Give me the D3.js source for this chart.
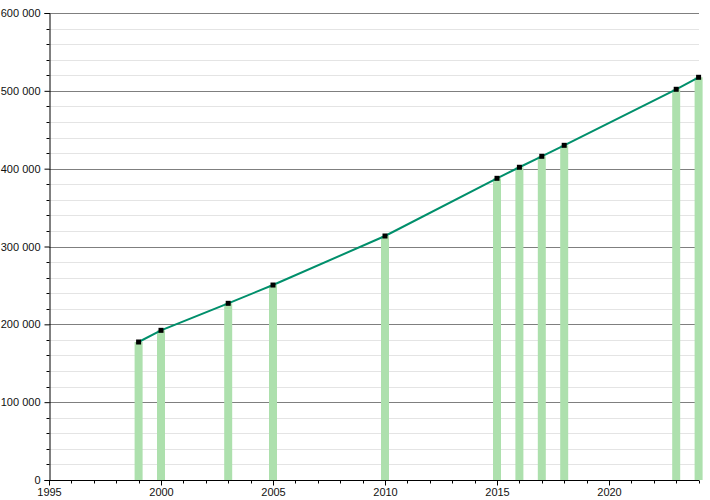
<!DOCTYPE html>
<html><head><meta charset="utf-8">
<script src="https://cdn.jsdelivr.net/npm/d3@7"></script>
<style>body{margin:0;background:#fff}text{font-family:"Liberation Sans",Arial,sans-serif;font-size:11px;fill:#111}</style>
</head><body><svg id="c" width="710" height="500"></svg>
<script>
const years = [1999, 2000, 2003, 2005, 2010, 2015, 2016, 2017, 2018, 2023, 2024];
const population = [177300, 192300, 227000, 250500, 313500, 387600, 401800, 415900, 430000, 502000, 517400];
const xTickLabels = [1995, 2000, 2005, 2010, 2015, 2020];
const yTickLabels = [0, 100000, 200000, 300000, 400000, 500000, 600000];

const svg = d3.select("#c");
const x = d3.scaleLinear().domain([1995, 2024]).range([49, 698.6]);
const y = d3.scaleLinear().domain([0, 600000]).range([480, 13]);
const fmt = v => d3.format(",")(v).replace(/,/g, " ");

// minor grid
const minor = d3.range(20000, 600001, 20000).filter(v => v % 100000 !== 0);
svg.append("g").selectAll("line").data(minor).join("line")
  .attr("x1", 50).attr("x2", 699).attr("y1", d => Math.round(y(d)) + 0.5).attr("y2", d => Math.round(y(d)) + 0.5)
  .attr("stroke", "#e4e4e4").attr("stroke-width", 1);
// major grid
svg.append("g").selectAll("line").data(yTickLabels.filter(v => v > 0)).join("line")
  .attr("x1", 49).attr("x2", 699).attr("y1", d => Math.round(y(d)) + 0.5).attr("y2", d => Math.round(y(d)) + 0.5)
  .attr("stroke", "#7f7f7f").attr("stroke-width", 1);

// bars
svg.append("g").selectAll("rect").data(years).join("rect")
  .attr("x", (d) => x(d) - 4).attr("width", 8)
  .attr("y", (d, i) => y(population[i])).attr("height", (d, i) => y(0) - y(population[i]))
  .attr("fill", "#ade0ad");

// line
const pts = years.map((d, i) => [x(d), y(population[i])]);
svg.append("path").attr("d", d3.line()(pts)).attr("fill", "none")
  .attr("stroke", "#008f6b").attr("stroke-width", 2);
svg.append("g").selectAll("rect").data(pts).join("rect")
  .attr("x", d => d[0] - 2.5).attr("y", d => d[1] - 2.5).attr("width", 5).attr("height", 5).attr("fill", "#000");

// y axis
const yAxisG = svg.append("g").attr("transform", "translate(49.5,0)");
yAxisG.call(d3.axisLeft(y).tickValues(yTickLabels).tickFormat(fmt).tickSize(5).tickPadding(4))
  .call(g => g.select(".domain").attr("stroke", "#000"));
yAxisG.selectAll(".tick line").attr("stroke", "#000");
yAxisG.append("g").selectAll("line").data(minor).join("line")
  .attr("x1", -3).attr("x2", 0).attr("y1", d => Math.round(y(d)) + 0.5).attr("y2", d => Math.round(y(d)) + 0.5).attr("stroke", "#000");
yAxisG.selectAll(".tick text").style("font-size", "11px").attr("fill", "#111");

// x axis
const xAxisG = svg.append("g").attr("transform", "translate(0,480.5)");
xAxisG.call(d3.axisBottom(x).tickValues(xTickLabels).tickFormat(d3.format("d")).tickSize(5).tickPadding(3))
  .call(g => g.select(".domain").attr("stroke", "#000").attr("d", "M49,0H699"));
xAxisG.selectAll(".tick line").attr("stroke", "#000");
const minorYears = d3.range(1996, 2025).filter(v => v % 5 !== 0);
xAxisG.append("g").selectAll("line").data(minorYears).join("line")
  .attr("x1", d => Math.round(x(d)) + 0.5).attr("x2", d => Math.round(x(d)) + 0.5).attr("y1", 0).attr("y2", 3).attr("stroke", "#000");
xAxisG.selectAll(".tick text").style("font-size", "11px").attr("fill", "#111");
</script></body></html>
